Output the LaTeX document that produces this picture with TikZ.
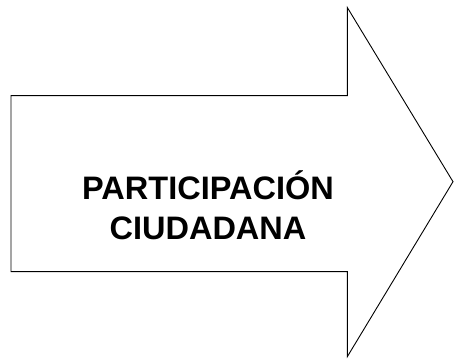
\documentclass[tikz,border=0pt]{standalone}
\usepackage{fontspec}
\setmainfont{Liberation Sans}
\tikzset{outline/.style={
        draw=black,
        line width=0.9pt,
        line join=miter,
        fill=white},
        %
        caption/.style={
            font=\bfseries\fontsize{32.5}{40}\selectfont,
            align=center,
            inner sep=0pt}
        }

\begin{document}
\begin{tikzpicture}[x=1pt,y=1pt]
\useasboundingbox (0,0) rectangle (454,358);

\coordinate (tailtop) at (11,262.3);
\coordinate (tailbot) at (11,86.3);
\coordinate (necktop) at (347.3,262.3);
\coordinate (neckbot) at (347.3,86.3);
\coordinate (headtop) at (347.3,350.5);
\coordinate (headbot) at (347.3,1.3);
\coordinate (tip) at (453,176.3);

\draw[outline] (tailtop) -- (necktop) -- (headtop) -- (tip) -- (headbot) -- (neckbot) -- (tailbot) -- cycle;

\node[caption,anchor=base] (label) at (208,118) {PARTICIPACIÓN\\CIUDADANA};
\end{tikzpicture}
\end{document}
